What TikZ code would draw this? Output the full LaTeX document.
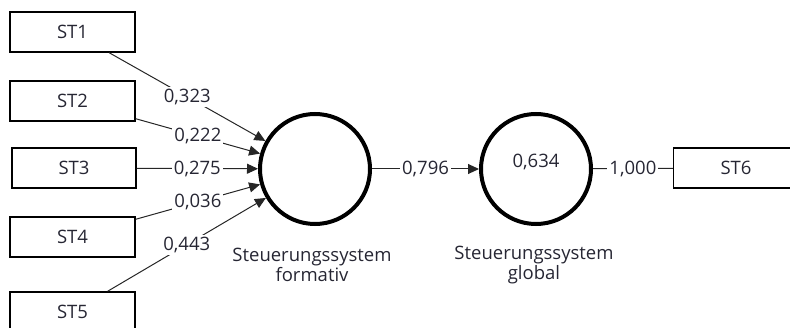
\documentclass[tikz,border=0pt]{standalone}
\usepackage{fontspec}
\setmainfont{Open Sans}
\usetikzlibrary{arrows.meta}
\definecolor{txt}{rgb}{0.15,0.15,0.2}
\begin{document}
\begin{tikzpicture}[x=1pt,y=1pt,
  lbl/.style={text=txt, font=\fontsize{18.5}{20}\selectfont},
  ind/.style={lbl, draw, line width=1.4pt, minimum width=125pt, minimum height=40pt,
    inner sep=0pt},
  lat/.style={draw, circle, line width=4pt, minimum size=110pt, inner sep=0pt},
  conn/.style={draw=black!85, line width=1pt},
  wt/.style={lbl, fill=white, inner sep=2pt},
  tip/.style={-{Triangle[length=11pt,width=10pt]}},
  caption/.style={lbl, align=center},
]
\useasboundingbox (0,0) rectangle (790,327);

% indicator boxes
\node[ind] (st1) at (72.5,295) {ST1};
\node[ind] (st2) at (72.5,226) {ST2};
\node[ind, minimum width=124pt] (st3) at (74,159) {ST3};
\node[ind] (st4) at (72.5,90) {ST4};
\node[ind] (st5) at (72.5,15) {ST5};
\node[ind] (st6) at (736,159) {ST6};

% latent variables
\node[lat] (c1) at (315,158) {};
\node[lat] (c2) at (536,158) {};
\node[lbl] (r2) at (536,165) {0,634};

\node[caption] (cap1) at (312,62) {Steuerungssystem\\formativ};
\node[caption] (cap2) at (534,62) {Steuerungssystem\\global};

% formative weights
\draw[conn,tip] (st1) -- node[wt] {0,323} (c1);
\draw[conn,tip] (st2) -- node[wt] {0,222} (c1);
\draw[conn,tip] (st3) -- node[wt] {0,275} (c1);
\draw[conn,tip] (st4) -- node[wt] {0,036} (c1);
\draw[conn,tip] (st5) -- node[wt] {0,443} (c1);

% structural path and reflective loading
\draw[conn,tip] (c1) -- node[wt] {0,796} (c2);
\draw[conn] (c2) -- node[wt] {1,000} (st6);
\end{tikzpicture}
\end{document}
